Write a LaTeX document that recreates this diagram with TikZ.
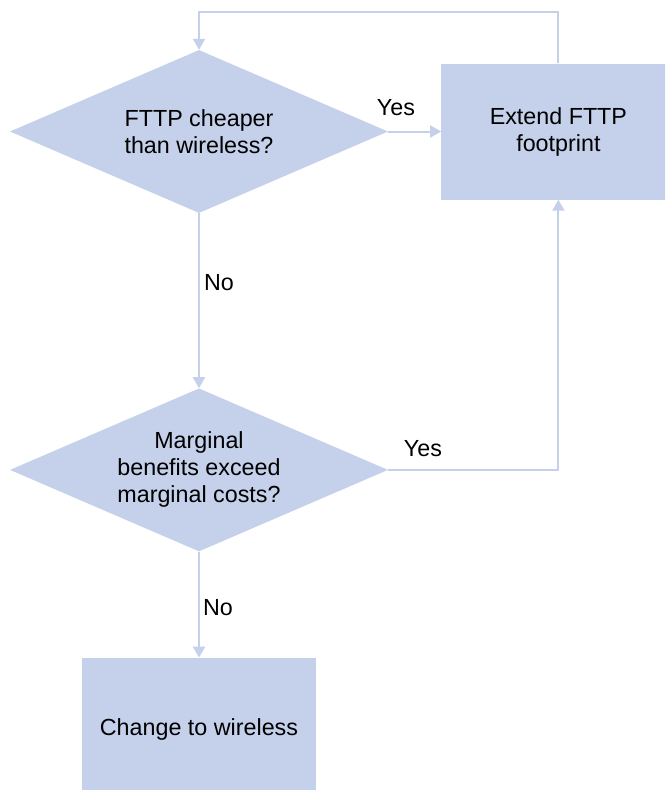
\documentclass[tikz,border=0pt]{standalone}
\usepackage{fontspec}
\setmainfont{Liberation Sans}
\usetikzlibrary{positioning, shapes.geometric, arrows.meta}
\definecolor{flowblue}{RGB}{197,208,234}

\begin{document}
\begin{tikzpicture}[x=1pt, y=-1pt,
    every node/.style={font=\fontsize{23.3}{27}\selectfont},
    decision/.style={diamond, aspect=2.32, fill=flowblue, inner sep=0pt, minimum width=378pt, minimum height=163pt, align=center},
    action/.style={rectangle, fill=flowblue, minimum width=234pt, align=center},
    link/.style={draw=flowblue, line width=2pt, -{Triangle[width=12pt,length=11pt]}}]
    \useasboundingbox (0,0) rectangle (665,790);
    \clip (0,0) rectangle (665,790);

    % Decisioni
    \node[decision] (cheaper) at (199,131.5) {FTTP cheaper\\than wireless?};
    \node[decision, below=175pt of cheaper] (margin) {Marginal\\benefits exceed\\marginal costs?};

    % Azioni
    \node[action, minimum height=136pt, right=53pt of cheaper] (extend) {Extend FTTP\\footprint};
    \node[action, minimum height=144pt, below=106pt of margin] (wireless) {Change to wireless};

    \draw[link] (cheaper.east) -- (extend.west);
    \draw[link] (extend.north) -- ++(0,-51) -| (cheaper.north);
    \draw[link] (cheaper.south) -- (margin.north);
    \draw[link] (margin.east) -| (extend.south);
    \draw[link] (margin.south) -- (wireless.north);

    % Etichette
    \node (yesTop) at (396,108) {Yes};
    \node (noTop) at (219,283) {No};
    \node (yesLow) at (423,449) {Yes};
    \node (noLow) at (218,608) {No};
\end{tikzpicture}
\end{document}
